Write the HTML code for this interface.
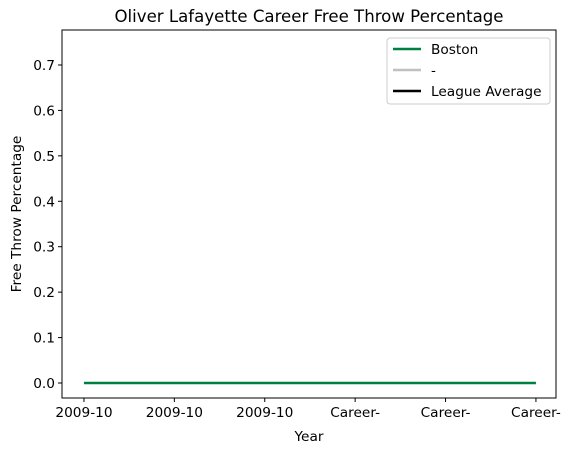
<!DOCTYPE html>
<html><head><meta charset="utf-8"><style>
body{margin:0;background:#fff;}
svg{font-family:"DejaVu Sans","Liberation Sans",sans-serif;}
</style></head><body>
<svg id="chart" width="570" height="453">
<rect x="0" y="0" width="570" height="453" fill="#fff"/>
<g id="plot"></g>
</svg>
<script>
const categories = ["2009-10","2009-10","2009-10","Career-","Career-","Career-"];
const bostonValues = [0,0,0,0,0,0];
const yTicks = [0.0,0.1,0.2,0.3,0.4,0.5,0.6,0.7];

const L=62,R=556,T=30,B=398;
const xMin=-0.243,xMax=5.222,yMin=-0.033,yMax=0.777;
const xs=i=>L+(i-xMin)/(xMax-xMin)*(R-L);
const ys=v=>B-(v-yMin)/(yMax-yMin)*(B-T);
const NS="http://www.w3.org/2000/svg";
const g=document.getElementById('plot');
function mk(tag,attrs,parent){const e=document.createElementNS(NS,tag);for(const k in attrs)e.setAttribute(k,attrs[k]);(parent||g).appendChild(e);return e;}

const frame=mk('rect',{x:L,y:T,width:R-L,height:B-T,fill:'none',stroke:'#000','stroke-width':1});



yTicks.forEach(v=>{
  const y=ys(v);
  const t=mk('line',{x1:L-4,x2:L,y1:y,y2:y,stroke:'#000'});
  
  
  const lb=mk('text',{x:L-7,y:y+5,'text-anchor':'end','font-size':13.7});
  lb.textContent=v.toFixed(1);
  
  
});
categories.forEach((c,i)=>{
  const x=xs(i);
  const t=mk('line',{x1:x,x2:x,y1:B,y2:B+4,stroke:'#000'});
  
  
  const lb=mk('text',{x:x,y:B+19,'text-anchor':'middle','font-size':13.7});
  lb.textContent=c;
  
  
});

const pts=bostonValues.map((v,i)=>xs(i)+','+ys(v)).join(' ');
const line=mk('polyline',{points:pts,fill:'none',stroke:'#008040','stroke-width':2.5});



const title=mk('text',{x:(L+R)/2,y:22,'text-anchor':'middle','font-size':16.6});
title.textContent='Oliver Lafayette Career Free Throw Percentage';


const xt=mk('text',{x:(L+R)/2,y:441,'text-anchor':'middle','font-size':13.7});
xt.textContent='Year';


const yt=mk('text',{x:0,y:0,'text-anchor':'middle','font-size':13.7,transform:'translate(21,'+((T+B)/2)+') rotate(-90)'});
yt.textContent='Free Throw Percentage';



const lg=mk('g',{});


mk('rect',{x:387,y:38,width:163,height:66,rx:3,fill:'#fff',stroke:'#ccc'},lg);
const entries=[['Boston','#008040'],['-','#c0c0c0'],['League Average','#000']];
entries.forEach((e,i)=>{
  const y=49+i*21;
  const eg=mk('g',{},lg);
  
  
  mk('line',{x1:393,x2:421,y1:y,y2:y,stroke:e[1],'stroke-width':2.5},eg);
  const tx=mk('text',{x:431,y:y+5,'font-size':13.7},eg);
  tx.textContent=e[0];
});
</script>
</body></html>
